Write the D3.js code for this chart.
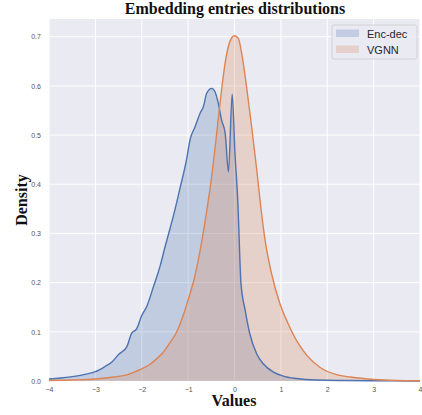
<!DOCTYPE html>
<html>
<head>
<meta charset="utf-8">
<style>
  body { margin: 0; background: #fff; }
  .tick text { font: 7px "Liberation Sans", Arial, sans-serif; fill: #555; }
  .lab { font-family: "Liberation Serif", "Times New Roman", serif; font-weight: bold; fill: #111; }
  .leg { font: 11px "Liberation Sans", Arial, sans-serif; fill: #262626; }
</style>
<script src="https://d3js.org/d3.v7.min.js"></script>
</head>
<body>
<script>
// Enc-dec density curve
var encX = [-4.0, -3.75, -3.5, -3.25, -3.0, -2.8, -2.65, -2.5, -2.32, -2.22, -2.11, -2.0, -1.89, -1.75, -1.6, -1.5, -1.39, -1.28, -1.18, -1.03, -0.96, -0.85, -0.74, -0.67, -0.6, -0.49, -0.42, -0.35, -0.28, -0.2, -0.13, -0.05, 0.01, 0.07, 0.14, 0.23, 0.33, 0.48, 0.62, 0.84, 1.05, 1.34, 1.77, 2.4, 3.0, 4.0];
var encY = [0.004, 0.006, 0.009, 0.013, 0.019, 0.029, 0.038, 0.054, 0.070, 0.097, 0.106, 0.133, 0.152, 0.191, 0.235, 0.272, 0.310, 0.350, 0.390, 0.452, 0.490, 0.517, 0.545, 0.558, 0.585, 0.595, 0.588, 0.565, 0.531, 0.503, 0.425, 0.583, 0.463, 0.368, 0.198, 0.144, 0.096, 0.055, 0.035, 0.018, 0.010, 0.005, 0.002, 0.001, 0.0005, 0.0];
// VGNN density curve
var vgnnX = [-4.0, -3.5, -3.0, -2.6, -2.3, -2.04, -1.82, -1.68, -1.54, -1.39, -1.25, -1.1, -1.0, -0.85, -0.71, -0.6, -0.5, -0.4, -0.3, -0.2, -0.1, 0.0, 0.08, 0.155, 0.26, 0.37, 0.48, 0.55, 0.66, 0.8, 0.98, 1.16, 1.34, 1.56, 1.84, 2.2, 2.5, 3.0, 3.5, 4.0];
var vgnnY = [0.001, 0.002, 0.004, 0.008, 0.013, 0.023, 0.034, 0.045, 0.058, 0.078, 0.099, 0.135, 0.165, 0.215, 0.282, 0.345, 0.410, 0.490, 0.575, 0.648, 0.690, 0.702, 0.697, 0.666, 0.598, 0.517, 0.429, 0.368, 0.286, 0.218, 0.157, 0.116, 0.082, 0.052, 0.028, 0.013, 0.008, 0.003, 0.001, 0.0005];

var xTicks = [-4, -3, -2, -1, 0, 1, 2, 3, 4];
var yTicks = [0.0, 0.1, 0.2, 0.3, 0.4, 0.5, 0.6, 0.7];
var names = ["Enc-dec", "VGNN"];
var colors = ["#4C72B0", "#DD8452"];

var width = 422, height = 415;
var mLeft = 49, mRight = 420, mTop = 19, mBottom = 381;

var svg = d3.select("body").append("svg")
    .attr("width", width).attr("height", height);

var x = d3.scaleLinear().domain([-4, 4]).range([mLeft, mRight]);
var y = d3.scaleLinear().domain([0, 0.736]).range([mBottom, mTop]);

svg.append("rect").attr("x", mLeft).attr("y", mTop)
    .attr("width", mRight - mLeft).attr("height", mBottom - mTop)
    .attr("fill", "#EAEAF2");

// grid
svg.append("g").selectAll("line").data(xTicks).enter().append("line")
    .attr("x1", d => x(d)).attr("x2", d => x(d))
    .attr("y1", mTop).attr("y2", mBottom)
    .attr("stroke", "#fff").attr("stroke-width", 1);
svg.append("g").selectAll("line").data(yTicks).enter().append("line")
    .attr("x1", mLeft).attr("x2", mRight)
    .attr("y1", d => y(d)).attr("y2", d => y(d))
    .attr("stroke", "#fff").attr("stroke-width", 1);

var series = [
    encX.map((v, i) => [v, encY[i]]),
    vgnnX.map((v, i) => [v, vgnnY[i]])
];

var area = d3.area().x(d => x(d[0])).y0(y(0)).y1(d => y(d[1])).curve(d3.curveMonotoneX);
var line = d3.line().x(d => x(d[0])).y(d => y(d[1])).curve(d3.curveMonotoneX);

series.forEach(function (s, i) {
    svg.append("path").datum(s).attr("d", area)
        .attr("fill", colors[i]).attr("fill-opacity", 0.25);
});
series.forEach(function (s, i) {
    svg.append("path").datum(s).attr("d", line)
        .attr("fill", "none").attr("stroke", colors[i]).attr("stroke-width", 1.4);
});

// axes
var xAxis = svg.append("g").attr("transform", "translate(0," + mBottom + ")")
    .call(d3.axisBottom(x).tickValues(xTicks).tickSize(0).tickPadding(6).tickFormat(d3.format("d")));
xAxis.select(".domain").remove();
var yAxis = svg.append("g").attr("transform", "translate(" + mLeft + ",0)")
    .call(d3.axisLeft(y).tickValues(yTicks).tickSize(0).tickPadding(8).tickFormat(d3.format(".1f")));
yAxis.select(".domain").remove();

// labels
svg.append("text").attr("class", "lab").attr("x", 235).attr("y", 14)
    .attr("text-anchor", "middle").style("font-size", "16px")
    .text("Embedding entries distributions");
svg.append("text").attr("class", "lab").attr("x", 234).attr("y", 406)
    .attr("text-anchor", "middle").style("font-size", "16px").text("Values");
svg.append("text").attr("class", "lab")
    .attr("transform", "translate(27,200) rotate(-90)")
    .attr("text-anchor", "middle").style("font-size", "16px").text("Density");

// legend
var leg = svg.append("g");
leg.append("rect").attr("x", 332).attr("y", 25).attr("width", 85).attr("height", 34)
    .attr("rx", 2).attr("fill", "#EAEAF2").attr("fill-opacity", 0.8)
    .attr("stroke", "#cccccc").attr("stroke-width", 0.8);
names.forEach(function (n, i) {
    leg.append("rect").attr("x", 336).attr("y", 29.5 + i * 16)
        .attr("width", 23).attr("height", 7.5)
        .attr("fill", colors[i]).attr("fill-opacity", 0.25);
    leg.append("text").attr("class", "leg").attr("x", 367).attr("y", 37.5 + i * 16).text(n);
});
</script>
</body>
</html>
